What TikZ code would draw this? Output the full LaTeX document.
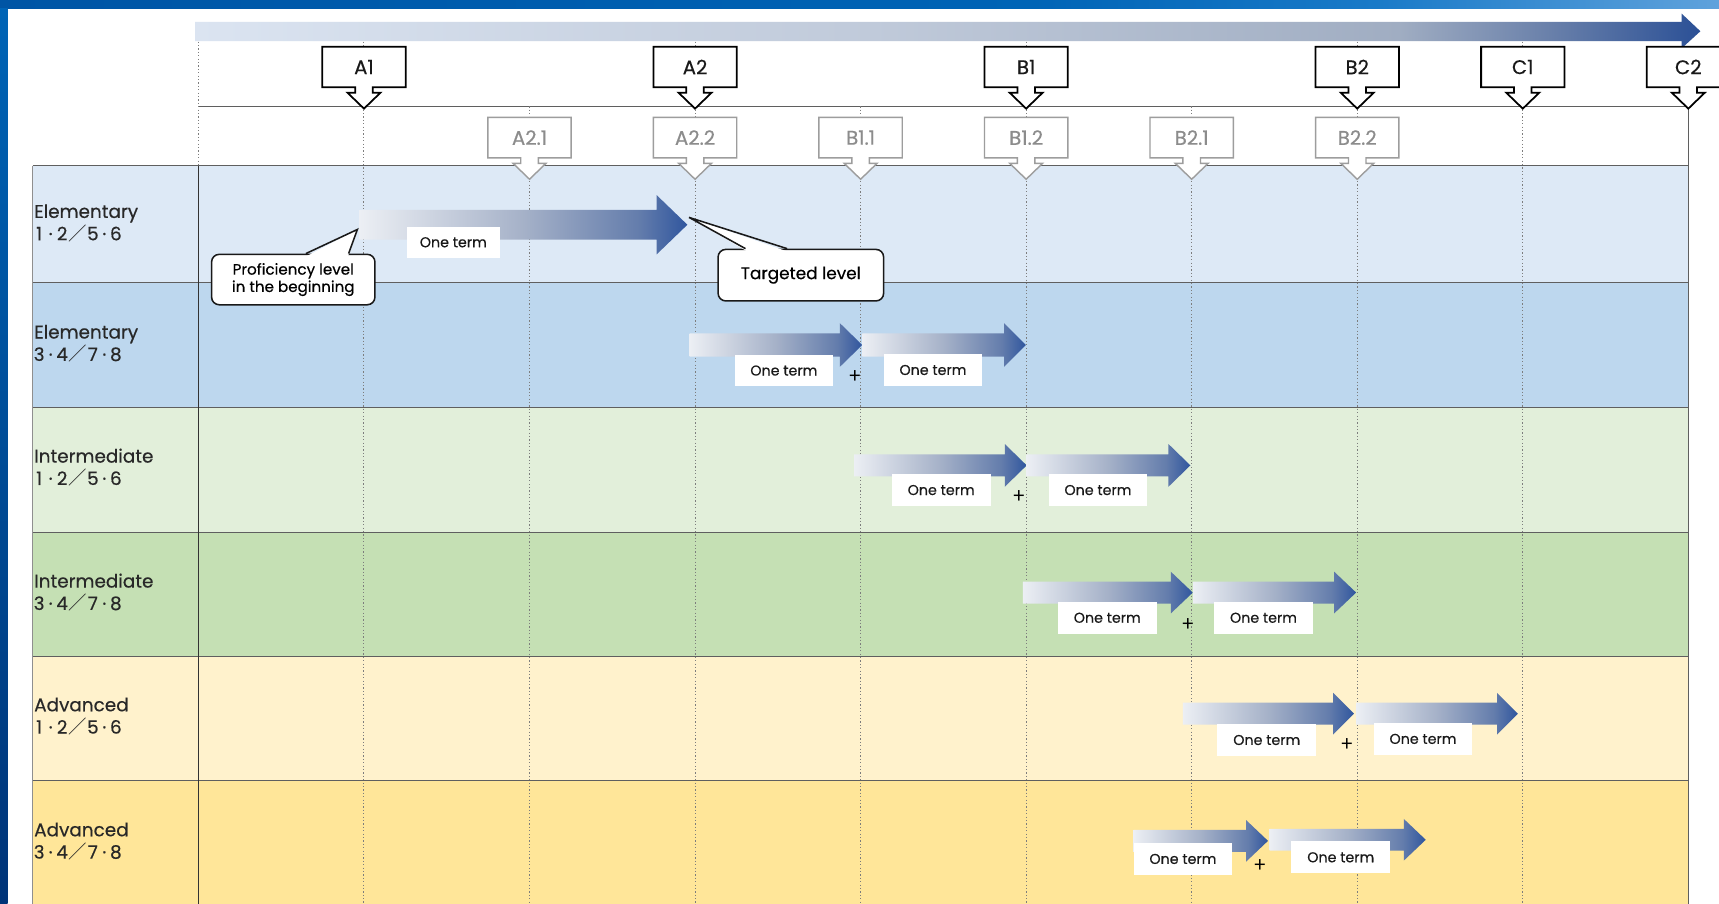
\documentclass[tikz,border=0pt]{standalone}
\usepackage{fontspec}
\setmainfont{Poppins}[FakeBold=0.4]
\newfontfamily\cjk{Noto Sans CJK JP}
\usetikzlibrary{calc}

\definecolor{rowA}{RGB}{221,233,246}
\definecolor{rowB}{RGB}{189,215,238}
\definecolor{rowC}{RGB}{226,239,218}
\definecolor{rowD}{RGB}{197,224,180}
\definecolor{rowE}{RGB}{255,242,204}
\definecolor{rowF}{RGB}{255,230,153}
\definecolor{gridcol}{RGB}{95,95,95}
\definecolor{dotcol}{RGB}{125,125,125}
\definecolor{subgray}{RGB}{140,140,140}
\definecolor{labeltext}{RGB}{40,40,40}
\definecolor{arrL}{RGB}{236,239,244}
\definecolor{arrM}{RGB}{165,177,200}
\definecolor{arrN}{RGB}{100,125,172}
\definecolor{arrR}{RGB}{48,86,158}
\definecolor{barL}{RGB}{219,228,241}
\definecolor{barM}{RGB}{192,202,218}
\definecolor{barN}{RGB}{160,173,194}
\definecolor{barO}{RGB}{105,128,170}
\definecolor{barR}{RGB}{43,80,150}
\definecolor{frA}{RGB}{0,85,165}
\definecolor{frB}{RGB}{0,100,182}
\definecolor{frC}{RGB}{25,122,200}
\definecolor{frD}{RGB}{95,162,220}
\definecolor{frE}{RGB}{0,52,120}

\pgfdeclarehorizontalshading{termshade}{100bp}{color(0bp)=(arrL); color(25bp)=(arrL); color(50bp)=(arrM); color(67.5bp)=(arrN); color(75bp)=(arrR); color(100bp)=(arrR)}
\pgfdeclarehorizontalshading{barshade}{100bp}{color(0bp)=(barL); color(25bp)=(barL); color(47.5bp)=(barM); color(65bp)=(barN); color(70bp)=(barO); color(75bp)=(barR); color(100bp)=(barR)}
\pgfdeclarehorizontalshading{frameshade}{100bp}{color(0bp)=(frA); color(25bp)=(frA); color(55bp)=(frB); color(65bp)=(frC); color(75bp)=(frD); color(100bp)=(frD)}

% x1, x2(tip), cy, half body, half head, head length
\newcommand\termarrow[6]{%
  \shade[shading=termshade] (#1,#3-#4) -- (#2-#6,#3-#4) -- (#2-#6,#3-#5) -- (#2,#3)
    -- (#2-#6,#3+#5) -- (#2-#6,#3+#4) -- (#1,#3+#4) -- cycle;}

% name, cx, ytop, style prefix, text
\newcommand\lvlbox[5]{%
  \filldraw[#4line] (#2-38,#3) -- (#2+38,#3) -- (#2+38,#3+37) -- (#2+8,#3+37)
    -- (#2+8,#3+42) -- (#2+15,#3+42) -- (#2,#3+56.5) -- (#2-15,#3+42)
    -- (#2-8,#3+42) -- (#2-8,#3+37) -- (#2-38,#3+37) -- cycle;
  \node[#4text] (#1) at (#2,#3+18.5) {#5};}

% grade line: a·b／c·d
\newcommand\grd[4]{\makebox[9pt][c]{#1}\makebox[12pt][c]{·}\makebox[9pt][c]{#2}%
  \makebox[19pt][c]{\cjk ／}\makebox[9pt][c]{#3}\makebox[12pt][c]{·}\makebox[9pt][c]{#4}}

\tikzset{
  mainline/.style={draw=black, fill=white, line width=1.6pt, line join=miter},
  subline/.style={draw=subgray!85, fill=white, line width=1.3pt, line join=miter},
  maintext/.style={inner sep=0pt, font=\fontsize{18}{20}\selectfont, text=black!90},
  subtext/.style={inner sep=0pt, font=\fontsize{18}{20}\selectfont, text=subgray},
  gridl/.style={draw=gridcol, line width=1.1pt},
  dotline/.style={draw=dotcol, line width=0.9pt, dash pattern=on 1.1pt off 2pt},
  rowlabel/.style={anchor=west, align=left, inner sep=0pt, text=labeltext,
    font=\fontsize{16.8}{20.4}\selectfont},
  termbox/.style={fill=white, inner sep=0pt, minimum width=90pt, minimum height=29pt,
    font=\fontsize{13}{16}\selectfont, text=black!90},
  plussign/.style={inner sep=0pt, font=\cjk\fontsize{19}{19}\selectfont},
  callout/.style={draw=black!90, fill=white, line width=1.4pt, rounded corners=7pt,
    align=center, inner sep=0pt},
  calloutline/.style={draw=black!90, line width=1.4pt, line join=miter},
}

\begin{document}
\begin{tikzpicture}[x=1pt, y=-1pt]
\useasboundingbox (0,0) rectangle (1568,824);
\clip (0,0) rectangle (1568,824);
\fill[white] (0,0) rectangle (1568,824);

% row fills
\fill[rowA] (30,151) rectangle (1540,258);
\fill[rowB] (30,258) rectangle (1540,372);
\fill[rowC] (30,372) rectangle (1540,486);
\fill[rowD] (30,486) rectangle (1540,599);
\fill[rowE] (30,599) rectangle (1540,712);
\fill[rowF] (30,712) rectangle (1540,830);

% frame bands
\shade[shading=frameshade] (0,0) rectangle (1568,7.3);
\shade[top color=frB, bottom color=frE] (0,7.3) rectangle (7,824);

% top gradient arrow
\shade[shading=barshade] (178,20) -- (1534,20) -- (1534,12.5) -- (1551,28.5)
  -- (1534,44) -- (1534,37.5) -- (178,37.5) -- cycle;

% grid lines
\draw[gridl] (181,97) -- (1540,97);
\foreach \yy in {151,258,372,486,599,712} \draw[gridl] (30,\yy) -- (1540,\yy);
\draw[draw=gridcol!70, line width=0.8pt] (30,151) -- (30,830);
\draw[gridl, draw=black!80] (181,151) -- (181,830);
\draw[gridl] (1540,97) -- (1540,830);

% dotted column lines
\draw[dotline] (181,38) -- (181,151);
\foreach \k in {1,3,5,7,8} \draw[dotline] (181+151*\k,38) -- (181+151*\k,830);
\foreach \k in {2,4,6} \draw[dotline] (181+151*\k,97) -- (181+151*\k,830);

% sub-level boxes
\lvlbox{a21}{483}{107}{sub}{A2.1}
\lvlbox{a22}{634}{107}{sub}{A2.2}
\lvlbox{b11}{785}{107}{sub}{B1.1}
\lvlbox{b12}{936}{107}{sub}{B1.2}
\lvlbox{b21}{1087}{107}{sub}{B2.1}
\lvlbox{b22}{1238}{107}{sub}{B2.2}

% main level boxes
\lvlbox{a1}{332}{42.6}{main}{A1}
\lvlbox{a2}{634}{42.6}{main}{A2}
\lvlbox{b1}{936}{42.6}{main}{B1}
\lvlbox{b2}{1238}{42.6}{main}{B2}
\lvlbox{c1}{1389}{42.6}{main}{C1}
\lvlbox{c2}{1540}{42.6}{main}{C2}

% term arrows
\termarrow{328}{627}{205}{13.5}{27}{28}
\termarrow{629}{786.5}{314.7}{10.5}{20}{20.5}
\termarrow{786.5}{935.8}{314.7}{10.5}{20}{20}
\termarrow{779}{936.5}{424.5}{10}{19.5}{20}
\termarrow{936.5}{1085.8}{424.5}{10}{19.5}{20}
\termarrow{933}{1088}{540.5}{10}{19}{20}
\termarrow{1088}{1237}{540.5}{10}{19}{20}
\termarrow{1079}{1235}{651}{10}{19}{19}
\termarrow{1237}{1384.5}{651}{10}{19}{19}
\termarrow{1034}{1156.6}{767}{10}{19}{20}
\termarrow{1158}{1300.5}{766}{10}{19}{20}

% term labels
\node[termbox, minimum width=85pt, minimum height=28pt] (t1) at (413.5,221) {One term};
\node[termbox] (t2a) at (715,338) {One term};
\node[termbox] (t2b) at (851,337.5) {One term};
\node[termbox] (t3a) at (858.5,447) {One term};
\node[termbox] (t3b) at (1001.5,447) {One term};
\node[termbox] (t4a) at (1010,563.5) {One term};
\node[termbox] (t4b) at (1152.5,563.5) {One term};
\node[termbox] (t5a) at (1155.5,675) {One term};
\node[termbox] (t5b) at (1298,674) {One term};
\node[termbox] (t6a) at (1079,783.5) {One term};
\node[termbox] (t6b) at (1223,782) {One term};

% plus signs
\node[plussign] (p2) at (780,344) {+};
\node[plussign] (p3) at (930,453) {+};
\node[plussign] (p4) at (1084,570) {+};
\node[plussign] (p5) at (1229,680) {+};
\node[plussign] (p6) at (1149.5,790) {+};

% callouts
\node[callout, minimum width=149pt, minimum height=46pt,
  font=\fontsize{13.8}{15.8}\selectfont] (prof) at (267.5,255)
  {Proficiency level\\in the beginning};
\fill[white] ($(prof.north)+(12.5,2.2)$) -- ($(prof.north)+(58.5,-22)$) -- ($(prof.north)+(50,2.2)$) -- cycle;
\draw[calloutline] ($(prof.north)+(11.5,0)$) -- ($(prof.north)+(58.5,-22)$) -- ($(prof.north)+(50.5,0)$);

\node[callout, minimum width=151pt, minimum height=47pt,
  font=\fontsize{15.4}{18}\selectfont] (targ) at (730.5,251) {Targeted level};
\fill[white] ($(targ.north)+(-49.5,2.2)$) -- ($(targ.north)+(-102,-28.5)$) -- ($(targ.north)+(-13.5,2.2)$) -- cycle;
\draw[calloutline] ($(targ.north)+(-50.5,0)$) -- ($(targ.north)+(-102,-28.5)$) -- ($(targ.north)+(-12.5,0)$);

% row labels
\node[rowlabel] (r1) at (31,203.5) {Elementary\\\grd{1}{2}{5}{6}};
\node[rowlabel] (r2) at (31,313.5) {Elementary\\\grd{3}{4}{7}{8}};
\node[rowlabel] (r3) at (31,426.5) {Intermediate\\\grd{1}{2}{5}{6}};
\node[rowlabel] (r4) at (31,540.5) {Intermediate\\\grd{3}{4}{7}{8}};
\node[rowlabel] (r5) at (31,653.5) {Advanced\\\grd{1}{2}{5}{6}};
\node[rowlabel] (r6) at (31,767.5) {Advanced\\\grd{3}{4}{7}{8}};
\end{tikzpicture}
\end{document}
